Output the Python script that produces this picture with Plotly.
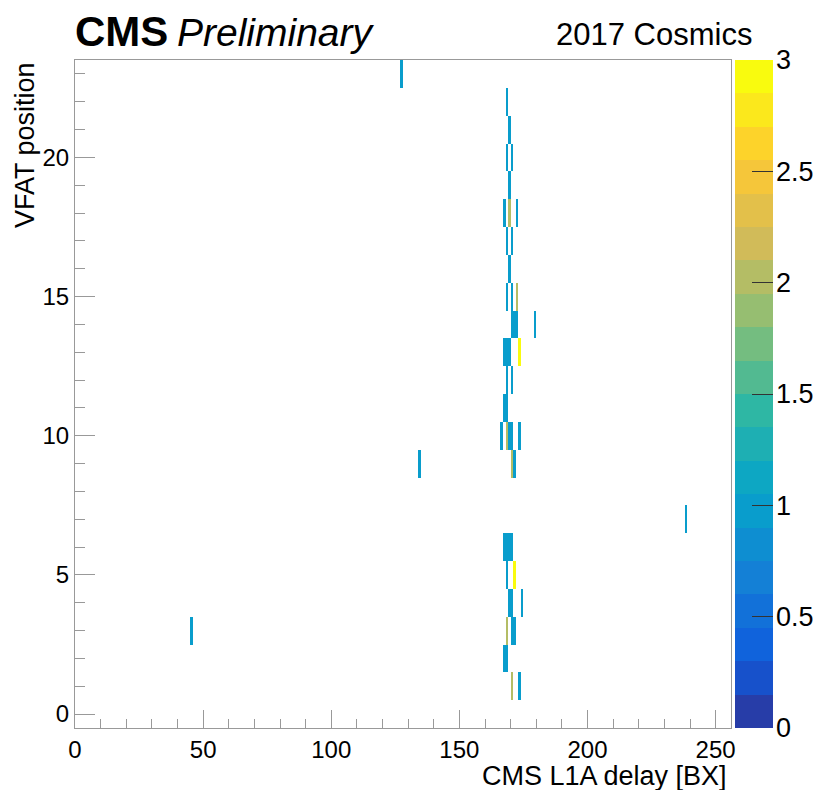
import plotly.graph_objects as go
import numpy as np

# ---- data: hits (L1A delay bin, VFAT position, entries) ----
hit_delay = [127,
             168,
             169,
             168, 170,
             169,
             167, 169, 172,
             168, 170,
             169,
             168, 170, 172,
             170, 171, 172, 179,
             167, 168, 169, 173,
             168, 170,
             167, 168,
             166, 168, 169, 170, 173,
             134, 170, 171,
             238,
             167, 168, 169, 170,
             168, 171,
             169, 170, 174,
             45, 168, 170, 171,
             167, 168,
             170, 173]
hit_vfat = [23,
            22,
            21,
            20, 20,
            19,
            18, 18, 18,
            17, 17,
            16,
            15, 15, 15,
            14, 14, 14, 14,
            13, 13, 13, 13,
            12, 12,
            11, 11,
            10, 10, 10, 10, 10,
            9, 9, 9,
            7,
            6, 6, 6, 6,
            5, 5,
            4, 4, 4,
            3, 3, 3, 3,
            2, 2,
            1, 1]
hit_count = [1,
             1,
             1,
             1, 1,
             1,
             1, 2, 1,
             1, 1,
             1,
             1, 1, 2,
             1, 1, 1, 1,
             1, 1, 1, 3,
             1, 1,
             1, 1,
             1, 2, 1, 1, 1,
             1, 2, 1,
             1,
             1, 1, 1, 1,
             1, 3,
             1, 1, 1,
             1, 2, 1, 1,
             1, 1,
             2, 1]

# palette axis (z scale) settings
z_min, z_max, n_levels = 0.0, 3.0, 20
z_ticks = [0, 0.5, 1, 1.5, 2, 2.5, 3]
z_ticktext = ["0", "0.5", "1", "1.5", "2", "2.5", "3"]

n_xbins = 256
n_ybins = 24
z = [[None] * n_xbins for _ in range(n_ybins)]
for xb, yb, c in zip(hit_delay, hit_vfat, hit_count):
    z[yb][xb] = c
x_centers = [i + 0.5 for i in range(n_xbins)]
y_centers = list(range(n_ybins))

# ---- ROOT kBird palette, 20 contour bands ----
stops = [0.0, 0.125, 0.25, 0.375, 0.5, 0.625, 0.75, 0.875, 1.0]
red = [0.2082, 0.0592, 0.0780, 0.0232, 0.1802, 0.5301, 0.8186, 0.9956, 0.9764]
green = [0.1664, 0.3599, 0.5041, 0.6419, 0.7178, 0.7492, 0.7328, 0.7862, 0.9832]
blue = [0.5293, 0.8684, 0.8385, 0.7914, 0.6425, 0.4662, 0.3499, 0.1968, 0.0539]
ncol = 255
scale = []
for i in range(n_levels):
    f = min(int((i + 0.99) * ncol / n_levels) / (ncol - 1), 1.0)
    r = np.interp(f, stops, red)
    g = np.interp(f, stops, green)
    b = np.interp(f, stops, blue)
    col = "rgb(%d,%d,%d)" % (round(r * 255), round(g * 255), round(b * 255))
    scale.append([i / n_levels, col])
    scale.append([(i + 1) / n_levels, col])

# palette strip: one cell per contour level
dz = (z_max - z_min) / n_levels
level_centers = [z_min + (i + 0.5) * dz for i in range(n_levels)]

W, H = 819, 790
L, T, B = 75, 60, 728
PW = W - L
FONT = "Liberation Sans, Arial"


def px(xp):
    return (xp - L) / PW


fig = go.Figure()
fig.add_trace(go.Heatmap(
    x=x_centers, y=y_centers, z=z,
    zmin=z_min, zmax=z_max, colorscale=scale,
    hoverongaps=False, showscale=False,
))
fig.add_trace(go.Heatmap(
    x=[0.5], y=level_centers, z=[[v] for v in level_centers],
    zmin=z_min, zmax=z_max, colorscale=scale, showscale=False,
    xaxis="x2", yaxis="y2", hoverinfo="skip",
))

axis_line = "#999999"
fig.update_layout(
    width=W, height=H,
    margin=dict(l=L, r=0, t=T, b=H - B, pad=0, autoexpand=False),
    paper_bgcolor="white", plot_bgcolor="white",
    font=dict(family=FONT, size=24, color="black"),
    xaxis=dict(
        domain=[0, px(731)], automargin=False,
        range=[0, 256], showgrid=False, zeroline=False,
        showline=True, linecolor=axis_line, linewidth=1, mirror=True,
        tickvals=[0, 50, 100, 150, 200, 250],
        ticks="inside", ticklen=18, tickcolor=axis_line,
        minor=dict(dtick=10, tick0=0, ticks="inside", ticklen=9, tickcolor=axis_line),
        tickfont=dict(size=24),
    ),
    yaxis=dict(
        range=[-0.5, 23.5], automargin=False, showgrid=False, zeroline=False,
        showline=True, linecolor=axis_line, linewidth=1, mirror=True,
        tickvals=[0, 5, 10, 15, 20],
        ticks="inside", ticklen=20, tickcolor=axis_line,
        minor=dict(dtick=1, tick0=0, ticks="inside", ticklen=10, tickcolor=axis_line),
        tickfont=dict(size=24),
    ),
    xaxis2=dict(
        domain=[px(735), px(773)], range=[0, 1], anchor="y2", automargin=False,
        showgrid=False, zeroline=False, showline=False,
        showticklabels=False, ticks="",
    ),
    yaxis2=dict(
        domain=[0, 1], range=[z_min, z_max], anchor="x2", side="right",
        automargin=False,
        showgrid=False, zeroline=False, showline=False,
        tickvals=z_ticks, ticktext=z_ticktext,
        ticks="inside", ticklen=21, tickcolor="#333", tickwidth=1,
        ticklabelposition="outside", ticklabelstandoff=2,
        tickfont=dict(family=FONT, size=27, color="black"),
    ),
    annotations=[
        dict(text="<b>CMS</b>", xref="paper", yref="paper", x=px(73), y=1.0,
             xanchor="left", yanchor="bottom", yshift=3, showarrow=False,
             font=dict(family=FONT, size=42, color="black")),
        dict(text="<i>Preliminary</i>", xref="paper", yref="paper",
             x=px(175), y=1.0, xanchor="left", yanchor="bottom",
             yshift=4, showarrow=False,
             font=dict(family=FONT, size=39, color="black")),
        dict(text="2017 Cosmics", xref="paper", yref="paper",
             x=px(754), y=1.0, xanchor="right", yanchor="bottom",
             yshift=6, showarrow=False,
             font=dict(family=FONT, size=31, color="black")),
        dict(text="CMS L1A delay [BX]", xref="paper", yref="paper",
             x=px(729), y=0, xanchor="right", yanchor="top", yshift=-31,
             showarrow=False,
             font=dict(family=FONT, size=27, color="black")),
        dict(text="VFAT position", xref="paper", yref="paper",
             x=0, y=1.0, xanchor="right", yanchor="top", xshift=-33,
             textangle=-90, showarrow=False,
             font=dict(family=FONT, size=27, color="black")),
    ],
)

fig.write_html("out.html")
